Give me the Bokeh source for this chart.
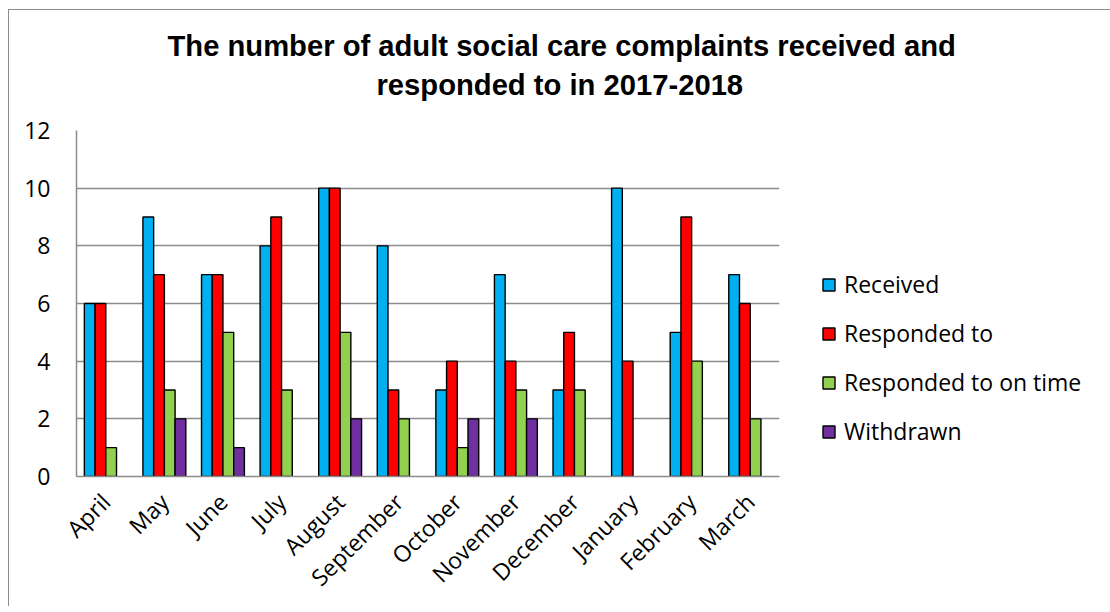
from bokeh.plotting import figure
from bokeh.models import ColumnDataSource, Legend, LegendItem, Title, SingleIntervalTicker
from bokeh.transform import dodge
from bokeh.embed import file_html
from bokeh.resources import INLINE
import math

months = ["April", "May", "June", "July", "August", "September", "October",
          "November", "December", "January", "February", "March"]
received = [6, 9, 7, 8, 10, 8, 3, 7, 3, 10, 5, 7]
responded = [6, 7, 7, 9, 10, 3, 4, 4, 5, 4, 9, 6]
on_time = [1, 3, 5, 3, 5, 2, 1, 3, 3, 0, 4, 2]
withdrawn = [0, 2, 1, 0, 2, 0, 2, 2, 0, 0, 0, 0]

series_names = ["Received", "Responded to", "Responded to on time", "Withdrawn"]
series_values = [received, responded, on_time, withdrawn]
colors = ["#00B0F0", "#FF0000", "#92D050", "#7030A0"]

title_lines = ["The number of adult social care complaints received and",
               "responded to in 2017-2018"]

p = figure(x_range=months, y_range=(0, 12),
           frame_width=703, frame_height=346,
           output_backend="svg", toolbar_location=None,
           min_border_left=67, min_border_right=326,
           min_border_top=120, min_border_bottom=130)
p.styles = {"margin-left": "8px", "margin-top": "9px",
            "border-left": "1.5px solid #8c8c8c", "border-top": "1.5px solid #8c8c8c"}
p.outline_line_color = None
p.background_fill_color = "white"
p.border_fill_color = "white"

bw = 0.183
offsets = [-1.5 * bw, -0.5 * bw, 0.5 * bw, 1.5 * bw]
items = []
for name, vals, col, off in zip(series_names, series_values, colors, offsets):
    xs = [m for m, v in zip(months, vals) if v > 0]
    ys = [v for v in vals if v > 0]
    src = ColumnDataSource(dict(month=xs, value=ys))
    r = p.vbar(x=dodge("month", off, range=p.x_range), top="value", width=bw,
               source=src, fill_color=col, line_color="black", line_width=1.4)
    items.append(LegendItem(label=name, renderers=[r]))

legend = Legend(items=items, location=(42, 29), orientation="vertical",
                glyph_width=15, glyph_height=15, label_standoff=8,
                label_height=30, spacing=17, padding=0, margin=0,
                label_text_font="Open Sans", label_text_font_size="23px",
                label_text_color="black", border_line_color=None,
                background_fill_alpha=0)
p.add_layout(legend, "right")

# axes
p.yaxis.ticker = SingleIntervalTicker(interval=2)
p.yaxis.major_tick_line_color = None
p.yaxis.minor_tick_line_color = None
p.yaxis.axis_line_color = "#8c8c8c"
p.yaxis.axis_line_width = 1.5
p.yaxis.major_label_text_font = "Open Sans"
p.yaxis.major_label_text_font_size = "23px"
p.yaxis.major_label_text_color = "black"
p.yaxis.major_label_standoff = 20

p.xaxis.major_tick_line_color = None
p.xaxis.minor_tick_line_color = None
p.xaxis.axis_line_color = "#8c8c8c"
p.xaxis.axis_line_width = 1.5
p.xaxis.major_label_orientation = math.pi / 4
p.xaxis.major_label_text_font = "Open Sans"
p.xaxis.major_label_text_font_size = "23px"
p.xaxis.major_label_text_color = "black"
p.xaxis.major_label_standoff = 15

p.xgrid.grid_line_color = None
p.ygrid.grid_line_color = "#8c8c8c"
p.ygrid.grid_line_width = 1.5

# title: two lines, each centred on the whole chart (offset from frame left)
title_offsets = [91, 300]
title_standoffs = [-50, 60]
for line, off, so in reversed(list(zip(title_lines, title_offsets, title_standoffs))):
    t = Title(text=line, align="left", offset=off, standoff=so,
              text_font="Liberation Sans", text_font_style="bold",
              text_font_size="29.2px", text_color="black")
    p.add_layout(t, "above")

open("out.html", "w").write(file_html(p, INLINE))
